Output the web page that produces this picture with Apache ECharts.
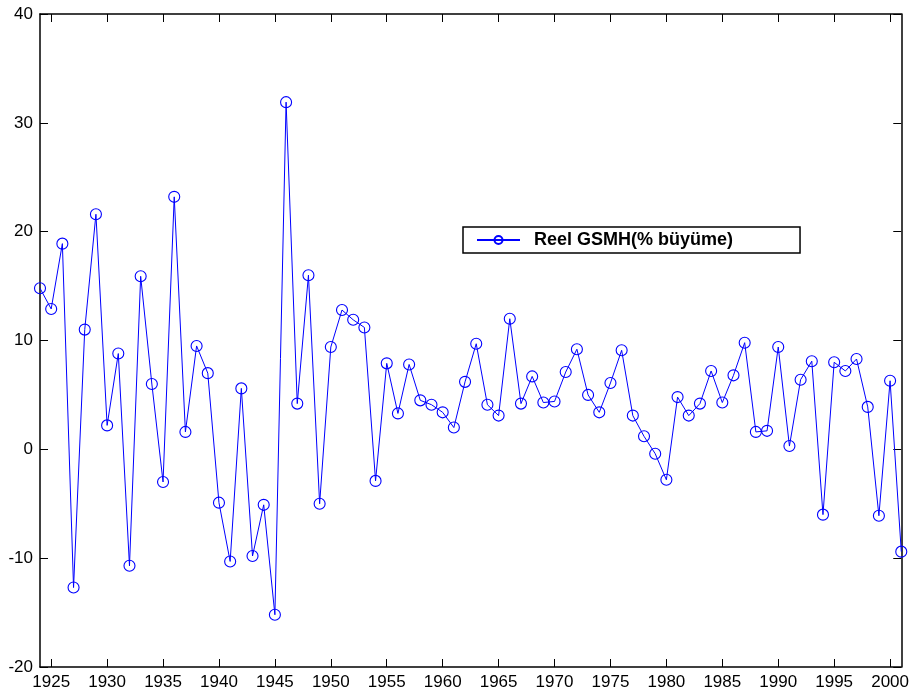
<!DOCTYPE html>
<html>
<head>
<meta charset="utf-8">
<script src="https://cdn.jsdelivr.net/npm/echarts@6/dist/echarts.min.js"></script>
<style>
  html, body { margin: 0; padding: 0; background: #fff; }
  #chart { width: 912px; height: 695px; }
</style>
</head>
<body>
<div id="chart"></div>
<script>
// Annual real GNP growth (%), 1924-2001
const years = [
  1924, 1925, 1926, 1927, 1928, 1929, 1930, 1931, 1932, 1933,
  1934, 1935, 1936, 1937, 1938, 1939, 1940, 1941, 1942, 1943,
  1944, 1945, 1946, 1947, 1948, 1949, 1950, 1951, 1952, 1953,
  1954, 1955, 1956, 1957, 1958, 1959, 1960, 1961, 1962, 1963,
  1964, 1965, 1966, 1967, 1968, 1969, 1970, 1971, 1972, 1973,
  1974, 1975, 1976, 1977, 1978, 1979, 1980, 1981, 1982, 1983,
  1984, 1985, 1986, 1987, 1988, 1989, 1990, 1991, 1992, 1993,
  1994, 1995, 1996, 1997, 1998, 1999, 2000, 2001
];
const growth = [
  14.8, 12.9, 18.9, -12.7, 11.0, 21.6, 2.2, 8.8, -10.7, 15.9,
  6.0, -3.0, 23.2, 1.6, 9.5, 7.0, -4.9, -10.3, 5.6, -9.8,
  -5.1, -15.2, 31.9, 4.2, 16.0, -5.0, 9.4, 12.8, 11.9, 11.2,
  -2.9, 7.9, 3.3, 7.8, 4.5, 4.1, 3.4, 2.0, 6.2, 9.7,
  4.1, 3.1, 12.0, 4.2, 6.7, 4.3, 4.4, 7.1, 9.2, 5.0,
  3.4, 6.1, 9.1, 3.1, 1.2, -0.4, -2.8, 4.8, 3.1, 4.2,
  7.2, 4.3, 6.8, 9.8, 1.6, 1.7, 9.4, 0.3, 6.4, 8.1,
  -6.0, 8.0, 7.2, 8.3, 3.9, -6.1, 6.3, -9.4
];
const xTicks = [1925, 1930, 1935, 1940, 1945, 1950, 1955, 1960, 1965, 1970,
                1975, 1980, 1985, 1990, 1995, 2000];
const seriesName = 'Reel GSMH(% büyüme)';

const font = 'Liberation Sans, Arial, Helvetica, sans-serif';
const axisLine = { show: true, onZero: false, lineStyle: { color: '#000', width: 1.5 } };
const tickIn = { show: true, inside: true, length: 8, lineStyle: { color: '#000', width: 1 } };

const chart = echarts.init(document.getElementById('chart'), null, { renderer: 'canvas' });
chart.setOption({
  animation: false,
  backgroundColor: '#fff',
  grid: { left: 40, right: 9, top: 14, bottom: 28, containLabel: false },
  legend: {
    show: true,
    left: 463, top: 227,
    orient: 'horizontal',
    data: [seriesName],
    itemWidth: 43, itemHeight: 10,
    padding: [4, 67, 4, 13],
    borderColor: '#000', borderWidth: 1.5,
    backgroundColor: '#fff',
    textStyle: { fontFamily: font, fontSize: 18, fontWeight: 'bold', color: '#000', padding: [0, 0, 0, 9] }
  },
  xAxis: [
    {
      type: 'value', min: 1924, max: 2001, position: 'bottom',
      axisLine: axisLine,
      axisTick: Object.assign({}, tickIn, { customValues: xTicks }),
      axisLabel: { customValues: xTicks, fontFamily: font, fontSize: 17, color: '#000', margin: 7,
                   formatter: v => String(v) },
      splitLine: { show: false }
    },
    {
      type: 'value', min: 1924, max: 2001, position: 'top',
      axisLine: axisLine,
      axisTick: Object.assign({}, tickIn, { customValues: xTicks }),
      axisLabel: { show: false },
      splitLine: { show: false }
    }
  ],
  yAxis: [
    {
      type: 'value', min: -20, max: 40, interval: 10, position: 'left',
      axisLine: axisLine, axisTick: tickIn,
      axisLabel: { fontFamily: font, fontSize: 17, color: '#000', margin: 7 },
      splitLine: { show: false }
    },
    {
      type: 'value', min: -20, max: 40, interval: 10, position: 'right',
      axisLine: axisLine, axisTick: tickIn,
      axisLabel: { show: false },
      splitLine: { show: false }
    }
  ],
  series: [{
    name: seriesName,
    type: 'line',
    data: years.map((y, i) => [y, growth[i]]),
    symbol: 'circle',
    symbolSize: 11,
    showAllSymbol: true,
    lineStyle: { color: '#0000ff', width: 1 },
    itemStyle: { color: 'rgba(0,0,0,0)', borderColor: '#0000ff', borderWidth: 1.1 },
    emphasis: { disabled: true }
  }]
});
</script>
</body>
</html>
